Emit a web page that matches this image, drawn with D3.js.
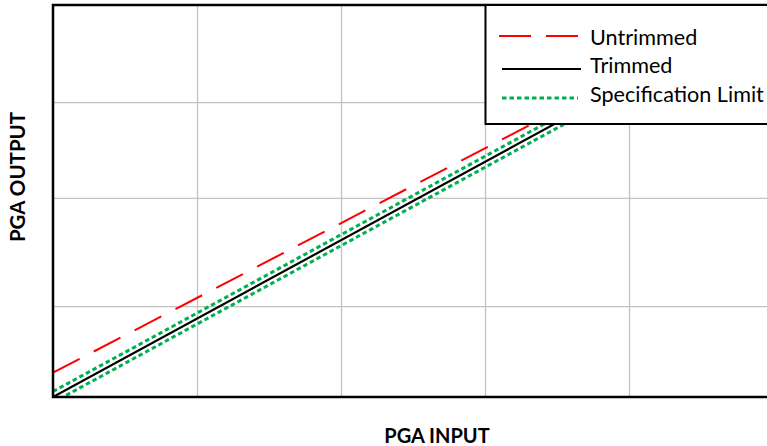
<!DOCTYPE html>
<html>
<head>
<meta charset="utf-8">
<script src="https://cdn.jsdelivr.net/npm/d3@7"></script>
<style>
  html, body { margin: 0; padding: 0; background: #fff; }
  svg { display: block; }
</style>
</head>
<body>
<svg id="chart" width="767" height="446"></svg>
<script>
// ---- data ----
const xDomain = [0, 5];
const yDomain = [0, 5];
const xGrid = [1, 2, 3, 4];
const yGrid = [1.16, 2.54, 3.76];
const seriesNames = ["Untrimmed", "Trimmed", "Specification Limit"];
const inputs = [0, 5];
const untrimmed = [0.31, 5.08];
const trimmed = [0, 5];
const specUpper = [0.07, 5.07];
const specLower = [-0.07, 4.93];
const xTitle = "PGA INPUT";
const yTitle = "PGA OUTPUT";

// ---- layout ----
const svg = d3.select("#chart");
const plotLeft = 53, plotTop = 5, plotW = 720, plotH = 392;
const x = d3.scaleLinear().domain(xDomain).range([plotLeft, plotLeft + plotW]);
const y = d3.scaleLinear().domain(yDomain).range([plotTop + plotH, plotTop]);

svg.append("defs").append("clipPath").attr("id", "plotclip")
  .append("rect").attr("x", plotLeft).attr("y", plotTop).attr("width", plotW).attr("height", plotH);

// gridlines via axes
svg.append("g").attr("transform", `translate(0,${plotTop + plotH})`)
  .call(d3.axisBottom(x).tickValues(xGrid).tickSize(-plotH).tickFormat(""))
  .call(g => g.select(".domain").remove())
  .call(g => g.selectAll(".tick line").attr("stroke", "#c3c3c3").attr("stroke-width", 1.3));
svg.append("g").attr("transform", `translate(${plotLeft},0)`)
  .call(d3.axisLeft(y).tickValues(yGrid).tickSize(-plotW).tickFormat(""))
  .call(g => g.select(".domain").remove())
  .call(g => g.selectAll(".tick line").attr("stroke", "#c3c3c3").attr("stroke-width", 1.3));

const line = d3.line().x(d => x(d[0])).y(d => y(d[1]));
const plot = svg.append("g").attr("clip-path", "url(#plotclip)");

const series = [
  { vals: untrimmed, color: "#ff0000", width: 2, dash: "30,16" },
  { vals: specUpper, color: "#00b050", width: 3, dash: "4.5,3" },
  { vals: specLower, color: "#00b050", width: 3, dash: "4.5,3" },
  { vals: trimmed, color: "#000000", width: 2.2, dash: null }
];
series.forEach(s => {
  plot.append("path")
    .datum(inputs.map((v, i) => [v, s.vals[i]]))
    .attr("d", line)
    .attr("fill", "none")
    .attr("stroke", s.color)
    .attr("stroke-width", s.width)
    .attr("stroke-dasharray", s.dash);
});

// plot border
svg.append("rect").attr("x", plotLeft).attr("y", plotTop).attr("width", plotW).attr("height", plotH)
  .attr("fill", "none").attr("stroke", "#000").attr("stroke-width", 2.5);

// legend
const lg = svg.append("g");
lg.append("rect").attr("x", 485.5).attr("y", 5).attr("width", 300).attr("height", 119)
  .attr("fill", "#fff").attr("stroke", "#000").attr("stroke-width", 2);
const legendItems = [
  { name: seriesNames[0], color: "#ff0000", width: 2, dash: "32,15", ly: 36, ty: 45, x1: 499, x2: 579 },
  { name: seriesNames[1], color: "#000", width: 2.2, dash: null, ly: 69, ty: 73, x1: 502, x2: 581 },
  { name: seriesNames[2], color: "#00b050", width: 3, dash: "4.5,3", ly: 98, ty: 102, x1: 502, x2: 578 }
];
legendItems.forEach(it => {
  lg.append("line").attr("x1", it.x1).attr("x2", it.x2).attr("y1", it.ly).attr("y2", it.ly)
    .attr("stroke", it.color).attr("stroke-width", it.width).attr("stroke-dasharray", it.dash);
  lg.append("text").attr("x", 590).attr("y", it.ty)
    .attr("font-family", "Lato, 'Open Sans', sans-serif").attr("font-size", 21.6)
    .attr("fill", "#000").text(it.name);
});

// axis titles
svg.append("text").attr("x", 437).attr("y", 443).attr("text-anchor", "middle")
  .attr("font-family", "Lato, 'Open Sans', sans-serif").attr("font-weight", "bold").attr("font-size", 20)
  .attr("fill", "#000").text(xTitle);
svg.append("text").attr("transform", "translate(25,177) rotate(-90)").attr("text-anchor", "middle")
  .attr("font-family", "Lato, 'Open Sans', sans-serif").attr("font-weight", "bold").attr("font-size", 20.5)
  .attr("fill", "#000").text(yTitle);
</script>
</body>
</html>
